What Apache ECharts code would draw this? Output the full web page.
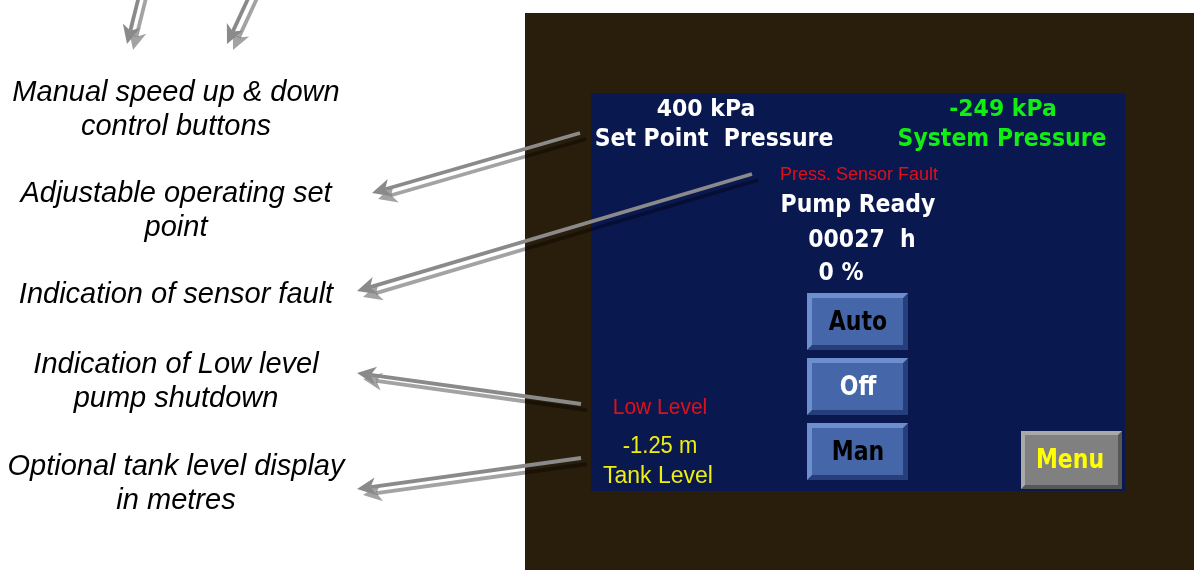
<!DOCTYPE html>
<html>
<head>
<meta charset="utf-8">
<style>
  html, body { margin: 0; padding: 0; background: #ffffff; }
  #chart { width: 1194px; height: 570px; }
</style>
<script src="https://cdn.jsdelivr.net/npm/echarts@6/dist/echarts.min.js"></script>
</head>
<body>
<div id="chart"></div>
<script>
// callout texts on the left, one entry per callout
const annotations = [
  ["Manual speed up & down", "control buttons"],
  ["Adjustable operating set", "point"],
  ["Indication of sensor fault"],
  ["Indication of Low level", "pump shutdown"],
  ["Optional tank level display", "in metres"]
];
// panel readings
const pressureKPa = [400, -249];               // set point, system
const pressureLabels = ["Set Point  Pressure", "System Pressure"];
const statusTexts = ["Press. Sensor Fault", "Pump Ready"];
const runHours = ["00027"];
const speedPercent = [0];
const modeButtons = ["Auto", "Off", "Man"];
const alarmTexts = ["Low Level"];
const tankLevelM = [-1.25];
const tankLabels = ["Tank Level"];
const menuButtons = ["Menu"];

// layout (pixels)
const annotationX = 176;
const annotationY = [93, 194, 294.5, 364.5, 467];
const annotationGap = 34;
const arrows = [
  [[141, -12], [127, 44]],
  [[253, -12], [227, 44]],
  [[580, 133], [372, 193]],
  [[752, 174], [357, 291]],
  [[581, 404], [357, 373]],
  [[581, 458], [357, 489]]
];
const buttonY = [293, 358, 423];
const buttonTextColor = ["#000000", "#ffffff", "#000000"];

const BOLD = 'bold 22px "DejaVu Sans"';
const els = [];

function txt(text, x, y, font, fill, sy) {
  els.push({
    type: "text", z: 10,
    scaleY: sy || 1, originX: x, originY: y,
    style: { text: text, x: x, y: y, font: font, fill: fill, align: "center", verticalAlign: "middle" }
  });
}

function bevel(x, y, w, h, b, light, dark, fill) {
  els.push({ type: "rect", z: 5, shape: { x: x, y: y, width: w, height: h }, style: { fill: dark } });
  els.push({ type: "polygon", z: 5, shape: { points: [[x, y], [x + w, y], [x + w - b, y + b], [x + b, y + b], [x + b, y + h - b], [x, y + h]] }, style: { fill: light } });
  els.push({ type: "rect", z: 5, shape: { x: x + b, y: y + b, width: w - 2 * b, height: h - 2 * b }, style: { fill: fill } });
}

function arrow(from, to, dx, dy, color, z) {
  const vx = to[0] - from[0], vy = to[1] - from[1];
  const len = Math.sqrt(vx * vx + vy * vy);
  const ux = vx / len, uy = vy / len;
  const L = 19, W = 9;
  const tip = [to[0] + dx, to[1] + dy];
  const back = [tip[0] - ux * L, tip[1] - uy * L];
  const notch = [tip[0] - ux * L * 0.72, tip[1] - uy * L * 0.72];
  const left = [back[0] - uy * W, back[1] + ux * W];
  const right = [back[0] + uy * W, back[1] - ux * W];
  els.push({ type: "line", z: z, shape: { x1: from[0] + dx, y1: from[1] + dy, x2: notch[0], y2: notch[1] }, style: { stroke: color, lineWidth: 3.8 } });
  els.push({ type: "polygon", z: z, shape: { points: [tip, left, notch, right] }, style: { fill: color } });
}

// frame and screen
els.push({ type: "rect", z: 1, shape: { x: 525, y: 13, width: 669, height: 557 }, style: { fill: "#291d0b" } });
els.push({ type: "rect", z: 2, shape: { x: 591, y: 93, width: 534, height: 398 }, style: { fill: "#0a1850" } });

// left callouts
annotations.forEach(function (lines, i) {
  lines.forEach(function (line, j) {
    txt(line, annotationX, annotationY[i] + j * annotationGap, 'italic 29px "Liberation Sans"', "#000000");
  });
});

// readings
txt(pressureKPa[0] + " kPa", 706, 110, BOLD, "#ffffff", 1.08);
txt(pressureLabels[0], 714, 140, BOLD, "#ffffff", 1.1);
txt(pressureKPa[1] + " kPa", 1003, 110, BOLD, "#12ee12", 1.08);
txt(pressureLabels[1], 1002, 140, BOLD, "#12ee12", 1.1);
txt(statusTexts[0], 859, 175, '18px "Liberation Sans"', "#e0101a", 1.05);
txt(statusTexts[1], 858, 206, BOLD, "#ffffff", 1.1);
txt(runHours[0] + "  h", 862, 241, BOLD, "#ffffff", 1.1);
txt(speedPercent[0] + " %", 841, 273.5, BOLD, "#ffffff", 1.1);

// mode buttons
modeButtons.forEach(function (name, i) {
  bevel(807, buttonY[i], 101, 57, 5, "#6d8fce", "#263f7c", "#4567a9");
  txt(name, 858, buttonY[i] + 30, BOLD, buttonTextColor[i], 1.18);
});
bevel(1021, 431, 101, 58, 4, "#a9a9a9", "#575757", "#808080");
txt(menuButtons[0], 1070, 461.5, BOLD, "#ffff00", 1.18);

// tank level block
txt(alarmTexts[0], 660, 408, '21px "Liberation Sans"', "#e0101a", 1.05);
txt(tankLevelM[0].toFixed(2) + " m", 660, 447, '22px "Liberation Sans"', "#eeee10", 1.05);
txt(tankLabels[0], 658, 476.5, '23px "Liberation Sans"', "#eeee10", 1.05);

// callout arrows: shadow first, then the arrow itself
arrows.forEach(function (a) {
  arrow(a[0], a[1], 6, 6, "rgba(0,0,0,0.36)", 20);
  arrow(a[0], a[1], 0, 0, "#8a8a8a", 21);
});

const chart = echarts.init(document.getElementById("chart"), null, { renderer: "canvas" });
chart.setOption({
  animation: false,
  graphic: { elements: els }
});
</script>
</body>
</html>
